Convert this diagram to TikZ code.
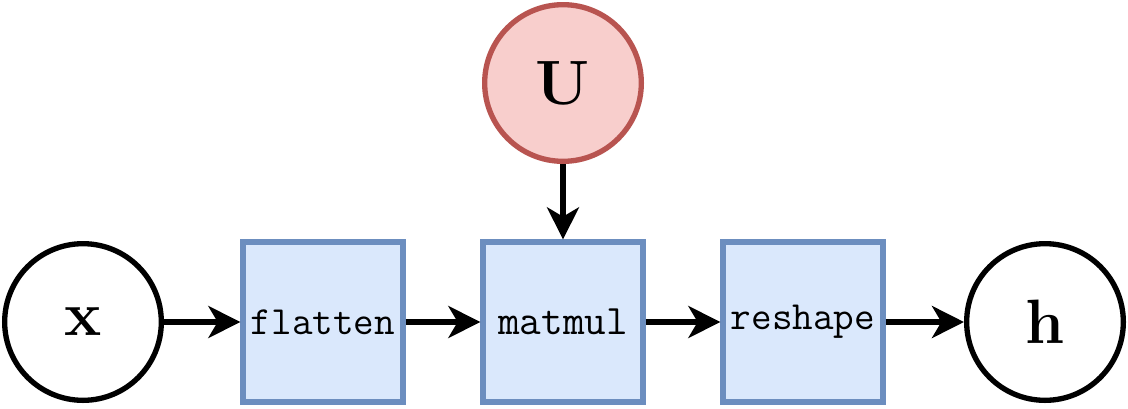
\documentclass[tikz,border=0pt]{standalone}
\usetikzlibrary{arrows.meta}
\definecolor{bfill}{HTML}{DAE8FC}
\definecolor{bdraw}{HTML}{6C8EBF}
\definecolor{rfill}{HTML}{F8CECC}
\definecolor{rdraw}{HTML}{B85450}
\tikzset{
  circ/.style={circle, draw=black, line width=4pt, minimum size=117.5pt, inner sep=0pt, font=\fontsize{47}{50}\selectfont\bfseries},
  ucirc/.style={circ, draw=rdraw, fill=rfill},
  opbox/.style={rectangle, draw=bdraw, fill=bfill, line width=4pt, minimum size=120pt, inner sep=0pt, font=\fontsize{30}{32}\selectfont\ttfamily},
  conn/.style={line width=4pt, -{Stealth[length=24pt,width=24pt,inset=7pt]}}
}
\begin{document}
\begin{tikzpicture}[x=0.75pt,y=-0.75pt]
\useasboundingbox (0,0) rectangle (1128,408);
\node[circ] (x) at (83,322) {x};
\node[opbox] (flatten) at (323,322) {flatten};
\node[opbox] (matmul) at (563,322) {\fontsize{31.5}{33}\selectfont matmul};
\node[opbox] (reshape) at (803,322) {reshape};
\node[circ] (h) at (1045,322) {h};
\node[ucirc] (U) at (563,83) {U};
\draw[conn] (x.east) -- (flatten.west);
\draw[conn] (flatten.east) -- (matmul.west);
\draw[conn] (matmul.east) -- (reshape.west);
\draw[conn] (reshape.east) -- (h.west);
\draw[conn] (U.south) -- (matmul.north);
\end{tikzpicture}
\end{document}
